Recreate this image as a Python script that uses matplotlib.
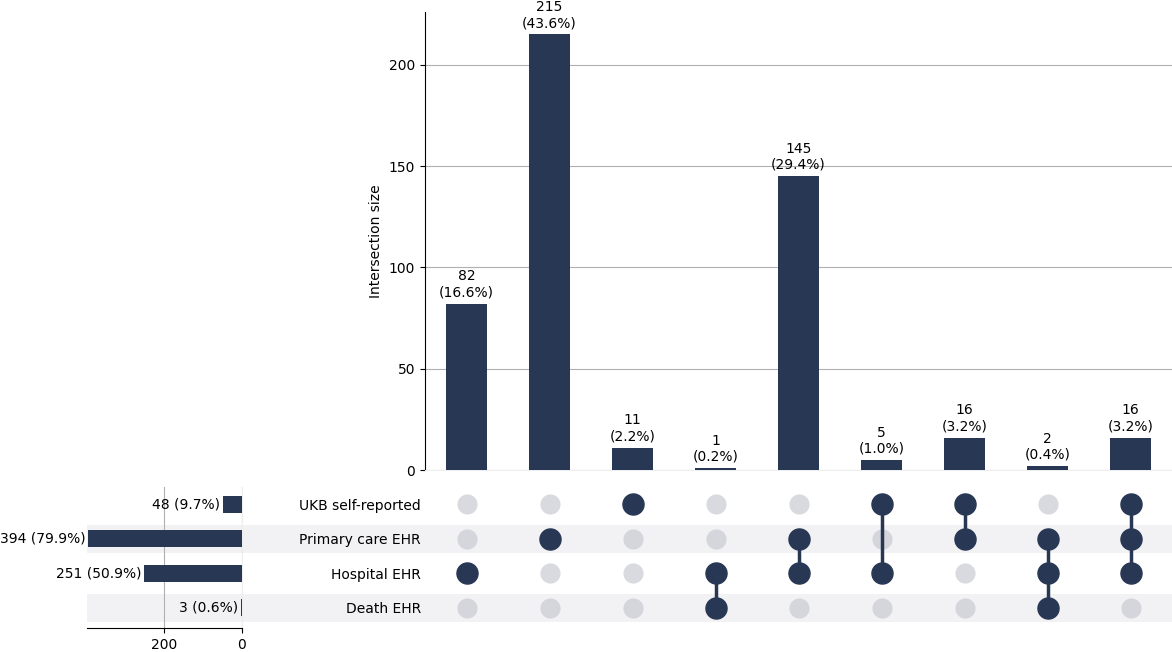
import matplotlib
matplotlib.use("Agg")
import matplotlib.pyplot as plt
from matplotlib.patches import Rectangle
from matplotlib.transforms import blended_transform_factory

# data
set_names = ["UKB self-reported", "Primary care EHR", "Hospital EHR", "Death EHR"]
set_totals = [48, 394, 251, 3]
inter_sizes = [82, 215, 11, 1, 145, 5, 16, 2, 16]
# membership of each intersection column (index into set_names)
inter_members = [[2], [1], [0], [2, 3], [1, 2], [0, 2], [0, 1], [1, 2, 3], [0, 1, 2]]
n_total = sum(inter_sizes)

DARK = "#283753"
W, H = 1172, 652
fig = plt.figure(figsize=(W / 100, H / 100), dpi=100)

def fx(px):
    return px / W

def fy(py):
    return 1 - py / H

# intersection bars
ax_bar = fig.add_axes([fx(425), fy(470), fx(1172 - 425), (470 - 12) / H])
xs = list(range(len(inter_sizes)))
ax_bar.bar(xs, inter_sizes, width=0.5, color=DARK, zorder=3)
for x, v in zip(xs, inter_sizes):
    ax_bar.annotate("%d\n(%.1f%%)" % (v, 100 * v / n_total), (x, v), xytext=(0, 3),
                    textcoords="offset points", ha="center", va="bottom", fontsize=10)
ax_bar.set_xlim(-0.5, len(xs) - 0.5)
ax_bar.set_ylim(0, 226)
ax_bar.set_yticks([0, 50, 100, 150, 200])
ax_bar.yaxis.grid(True, color="#b0b0b0", lw=0.8, zorder=0)
ax_bar.set_xticks([])
for s in ["top", "right"]:
    ax_bar.spines[s].set_visible(False)
ax_bar.spines["bottom"].set_color("#eeeeee")
ax_bar.set_ylabel("Intersection size", fontsize=10)
ax_bar.tick_params(axis="y", labelsize=10)

# matrix
mat_bottom, mat_top = 625, 487
ax_m = fig.add_axes([fx(425), fy(mat_bottom), fx(1172 - 425), (mat_bottom - mat_top) / H])
ax_m.patch.set_visible(False)
ax_m.set_xlim(-0.5, len(xs) - 0.5)
ax_m.set_ylim(len(set_names) - 0.5, -0.5)
for s in ax_m.spines.values():
    s.set_visible(False)
ax_m.set_xticks([])
ax_m.set_yticks(range(len(set_names)))
ax_m.set_yticklabels(set_names, fontsize=10)
ax_m.tick_params(axis="y", length=0, pad=3)

tr = blended_transform_factory(fig.transFigure, ax_m.transData)
for i in range(len(set_names)):
    if i % 2 == 1:
        fig.add_artist(Rectangle((fx(87), i - 0.4), 1 - fx(87), 0.8, transform=tr,
                                 facecolor="#f2f2f4", edgecolor="none", zorder=-1))

for x, mem in zip(xs, inter_members):
    for i in range(len(set_names)):
        if i in mem:
            ax_m.scatter(x, i, s=230, color=DARK, zorder=3)
        else:
            ax_m.scatter(x, i, s=210, color="#c4c7cf", alpha=0.65, lw=0, zorder=2)
    if len(mem) > 1:
        ax_m.plot([x, x], [min(mem), max(mem)], color=DARK, lw=2.5, zorder=2)

# set totals
tot_bottom = 628
row_px = (mat_bottom - mat_top) / len(set_names)
ax_t = fig.add_axes([fx(87), fy(tot_bottom), fx(242 - 87), (tot_bottom - mat_top) / H])
ax_t.patch.set_visible(False)
ys = list(range(len(set_names)))
ax_t.barh(ys, set_totals, height=0.5, color=DARK, zorder=3)
for y, v in zip(ys, set_totals):
    ax_t.annotate("%d (%.1f%%)" % (v, 100 * v / n_total), (v, y), xytext=(-2, 0),
                  textcoords="offset points", ha="right", va="center", fontsize=10)
ax_t.set_ylim(len(set_names) - 0.5 + (tot_bottom - mat_bottom) / row_px, -0.5)
ax_t.set_xlim(397, 0)
ax_t.set_xticks([200, 0])
ax_t.set_yticks([])
ax_t.xaxis.grid(True, color="#b0b0b0", lw=0.8, zorder=0)
for s in ["top", "left"]:
    ax_t.spines[s].set_visible(False)
ax_t.spines["right"].set_color("#eeeeee")
ax_t.tick_params(axis="x", labelsize=10)

fig.savefig("out.png", dpi=100)
